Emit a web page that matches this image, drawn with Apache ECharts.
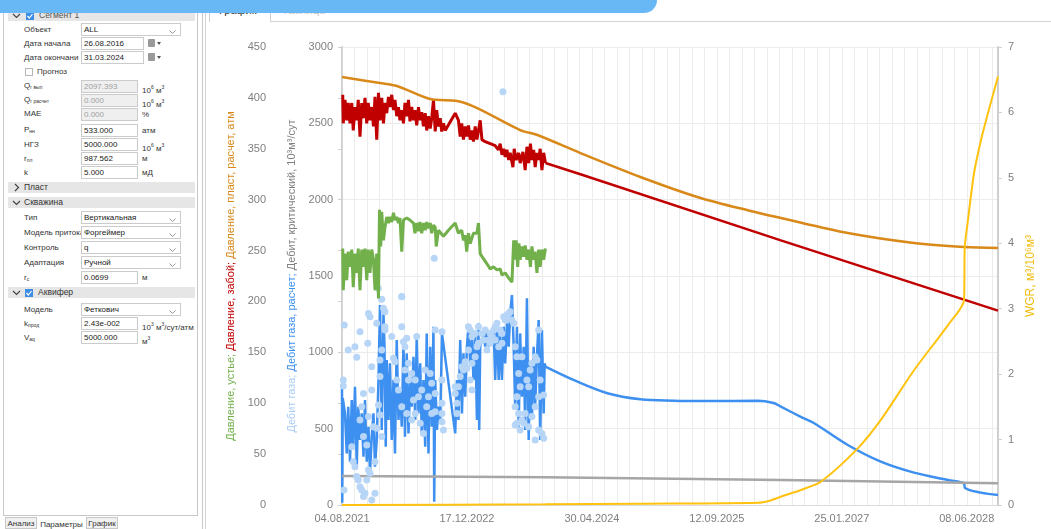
<!DOCTYPE html>
<html>
<head>
<meta charset="utf-8">
<title>Сегмент 1 — график</title>
<script src="https://cdn.jsdelivr.net/npm/echarts@6/dist/echarts.min.js"></script>
<style>
  html, body { margin: 0; padding: 0; width: 1051px; height: 529px; overflow: hidden; background: #fff;
    font-family: "Liberation Sans", Arial, sans-serif; color: #333; }
  #banner { position: absolute; left: 0; top: 0; width: 657px; height: 13px; background: #68b8f6;
    border-bottom-right-radius: 13px; z-index: 20; }
  #panel { position: absolute; left: 3px; top: 0; width: 195px; height: 516px; border: 1px solid #c8c8c8;
    border-top: none; box-sizing: border-box; background: #fff; }
  #splitter { position: absolute; left: 202px; top: 0; width: 1px; height: 529px; background: #c8c8c8; }
  #chartFrame { position: absolute; left: 205px; top: 0; width: 1px; height: 529px; background: #d4d4d4; }
  .hdr { position: absolute; left: 8px; width: 187px; height: 11px; background: #e6e6e6; font-size: 8.5px; line-height: 11px; }
  .hdr span { position: absolute; }
  .lbl { position: absolute; left: 24px; font-size: 8px; line-height: 10px; color: #333; white-space: nowrap; }
  .lbl sub { font-size: 5px; vertical-align: baseline; position: relative; top: 1px; }
  .inp { position: absolute; left: 81px; height: 13px; border: 1px solid #cbcbcb; background: #fff; box-sizing: border-box;
    font-size: 8px; line-height: 11px; padding-left: 2px; color: #222; white-space: nowrap; }
  .inp.dis { background: #efefef; color: #a0a0a0; }
  .sel { width: 100px; }
  .num { width: 57px; }
  .date { width: 63px; }
  .unit { position: absolute; left: 142px; font-size: 8px; line-height: 10px; color: #333; white-space: nowrap; }
  .unit sup { font-size: 5px; }
  .chev { position: absolute; right: 4px; top: 3px; }
  .cal { position: absolute; left: 148px; width: 7px; height: 8px; background: #9a9a9a; border-radius: 1px; }
  .cal:after { content: ""; position: absolute; left: 9px; top: 3px; border-left: 2.5px solid transparent;
    border-right: 2.5px solid transparent; border-top: 3px solid #555; }
  .chk { position: absolute; width: 8px; height: 8px; box-sizing: border-box; }
  .chk.on { background: #3b8de6; }
  .chk.off { border: 1px solid #b5b5b5; background: #fff; }
  .btab { position: absolute; top: 517px; height: 12px; font-size: 8px; line-height: 12px; text-align: center;
    box-sizing: border-box; border: 1px solid #c8c8c8; background: #f0f0f0; }
  .btab.act { background: #fff; border: none; line-height: 15px; }
  #tabGraph { position: absolute; left: 209px; top: 0; width: 62px; height: 22px; border-left: 1px solid #cfcfcf;
    border-right: 1px solid #cfcfcf; box-sizing: border-box; background: #fff; font-size: 11px; line-height: 20px;
    padding-left: 9px; color: #333; }
  #tabTable { position: absolute; left: 282px; top: 0; font-size: 11px; line-height: 20px; color: #c8c8c8; }
  #tabLine { position: absolute; left: 271px; top: 21px; width: 780px; height: 1px; background: #d4d4d4; }
  #chart { position: absolute; left: 208px; top: 22px; width: 843px; height: 507px; }
</style>
</head>
<body>
<div id="banner"></div>

<div id="panel"></div>
<div id="splitter"></div>

<!-- parameter panel -->
<div class="hdr" style="top:10px"><span style="left:4px;top:0"><svg width="9" height="11"><polyline points="1,4 4.5,7.5 8,4" fill="none" stroke="#444" stroke-width="1.2"/></svg></span>
  <span class="chk on" style="left:18px;top:1.5px"><svg width="8" height="8" style="position:absolute;left:0;top:0"><polyline points="1.5,4 3.3,6 6.5,2" fill="none" stroke="#fff" stroke-width="1.2"/></svg></span>
  <span style="left:31px;color:#555">Сегмент 1</span></div>

<div class="lbl" style="top:25px">Объект</div>
<div class="inp sel" style="top:23px">ALL<span class="chev"><svg width="7" height="5"><polyline points="0.5,0.5 3.5,3.5 6.5,0.5" fill="none" stroke="#888" stroke-width="0.9"/></svg></span></div>
<div class="lbl" style="top:39px">Дата начала</div>
<div class="inp date" style="top:37px">26.08.2016</div><div class="cal" style="top:39px"></div>
<div class="lbl" style="top:53px">Дата окончани</div>
<div class="inp date" style="top:51px">31.03.2024</div><div class="cal" style="top:53px"></div>
<div class="chk off" style="left:25px;top:68px"></div>
<div class="lbl" style="top:67px;left:37px">Прогноз</div>

<div class="lbl" style="top:81px">Q<sub>г вып</sub></div>
<div class="inp num dis" style="top:80px">2097.393</div><div class="unit" style="top:82px">10<sup>6</sup> м<sup>3</sup></div>
<div class="lbl" style="top:95px">Q<sub>г расчет</sub></div>
<div class="inp num dis" style="top:94px">0.000</div><div class="unit" style="top:96px">10<sup>6</sup> м<sup>3</sup></div>
<div class="lbl" style="top:109px">MAE</div>
<div class="inp num dis" style="top:108px">0.000</div><div class="unit" style="top:110px">%</div>
<div class="lbl" style="top:125px">P<sub>нн</sub></div>
<div class="inp num" style="top:124px">533.000</div><div class="unit" style="top:126px">атм</div>
<div class="lbl" style="top:140px">НГЗ</div>
<div class="inp num" style="top:138px">5000.000</div><div class="unit" style="top:140px">10<sup>6</sup> м<sup>3</sup></div>
<div class="lbl" style="top:154px">r<sub>пл</sub></div>
<div class="inp num" style="top:152px">987.562</div><div class="unit" style="top:154px">м</div>
<div class="lbl" style="top:168px">k</div>
<div class="inp num" style="top:166px">5.000</div><div class="unit" style="top:168px">мД</div>

<div class="hdr" style="top:182px"><span style="left:4px;top:0"><svg width="9" height="11"><polyline points="3,2 6.5,5.5 3,9" fill="none" stroke="#444" stroke-width="1.2"/></svg></span>
  <span style="left:16px">Пласт</span></div>
<div class="hdr" style="top:197px"><span style="left:4px;top:0"><svg width="9" height="11"><polyline points="1,4 4.5,7.5 8,4" fill="none" stroke="#444" stroke-width="1.2"/></svg></span>
  <span style="left:16px">Скважина</span></div>

<div class="lbl" style="top:213px">Тип</div>
<div class="inp sel" style="top:211px">Вертикальная<span class="chev"><svg width="7" height="5"><polyline points="0.5,0.5 3.5,3.5 6.5,0.5" fill="none" stroke="#888" stroke-width="0.9"/></svg></span></div>
<div class="lbl" style="top:228px">Модель притока</div>
<div class="inp sel" style="top:226px">Форгеймер<span class="chev"><svg width="7" height="5"><polyline points="0.5,0.5 3.5,3.5 6.5,0.5" fill="none" stroke="#888" stroke-width="0.9"/></svg></span></div>
<div class="lbl" style="top:243px">Контроль</div>
<div class="inp sel" style="top:241px">q<span class="chev"><svg width="7" height="5"><polyline points="0.5,0.5 3.5,3.5 6.5,0.5" fill="none" stroke="#888" stroke-width="0.9"/></svg></span></div>
<div class="lbl" style="top:258px">Адаптация</div>
<div class="inp sel" style="top:256px">Ручной<span class="chev"><svg width="7" height="5"><polyline points="0.5,0.5 3.5,3.5 6.5,0.5" fill="none" stroke="#888" stroke-width="0.9"/></svg></span></div>
<div class="lbl" style="top:273px">r<sub>с</sub></div>
<div class="inp num" style="top:271px">0.0699</div><div class="unit" style="top:273px">м</div>

<div class="hdr" style="top:287px"><span style="left:4px;top:0"><svg width="9" height="11"><polyline points="1,4 4.5,7.5 8,4" fill="none" stroke="#444" stroke-width="1.2"/></svg></span>
  <span class="chk on" style="left:17px;top:1.5px"><svg width="8" height="8" style="position:absolute;left:0;top:0"><polyline points="1.5,4 3.3,6 6.5,2" fill="none" stroke="#fff" stroke-width="1.2"/></svg></span>
  <span style="left:30px">Аквифер</span></div>

<div class="lbl" style="top:305px">Модель</div>
<div class="inp sel" style="top:303px">Феткович<span class="chev"><svg width="7" height="5"><polyline points="0.5,0.5 3.5,3.5 6.5,0.5" fill="none" stroke="#888" stroke-width="0.9"/></svg></span></div>
<div class="lbl" style="top:319px">k<sub>прод</sub></div>
<div class="inp num" style="top:317px">2.43e-002</div><div class="unit" style="top:319px">10<sup>3</sup> м<sup>3</sup>/сут/атм</div>
<div class="lbl" style="top:333px">V<sub>аq</sub></div>
<div class="inp num" style="top:331px">5000.000</div><div class="unit" style="top:333px">м<sup>3</sup></div>

<div class="btab" style="left:5px;width:32px">Анализ</div>
<div class="btab act" style="left:38px;width:47px">Параметры</div>
<div class="btab" style="left:86px;width:32px">График</div>

<!-- chart tabs -->
<div id="chartFrame"></div>
<div id="tabGraph">График</div>
<div id="tabTable">Таблица</div>
<div id="tabLine"></div>

<div id="chart"></div>

<script>
// Time axis is expressed as days counted from the first measurement date.
const START_DATE = Date.UTC(2021, 7, 4);
const X_MAX_DAYS = 2625;

// Давление, устье (атм) — measured history
const wellheadPressure = [
  [3,252],[5,211],[12,247],[19,221],[25,249],[32,234],[39,251],[45,214],[52,247],[59,228],[65,252],[72,211],
  [79,251],[85,234],[92,252],[99,221],[105,251],[112,228],[119,251],[126,241],[132,211],[139,247],[146,203],
  [150,290],[155,254],[159,288],[166,260],[172,273],[179,283],[186,277],[192,283],[199,278],[206,287],[212,280],
  [219,283],[226,277],[232,282],[239,249],[246,280],[259,282],[272,280],[286,277],[292,267],[299,277],[306,269],
  [312,278],[319,267],[326,277],[333,270],[339,278],[346,272],[353,277],[359,267],[366,275],[373,273],[377,254],
  [386,270],[406,264],[426,270],[453,277],[466,267],[479,270],[486,260],[493,265],[499,249],[506,267],[513,257],
  [526,267],[540,267],[546,277],[553,247],[566,242],[580,237],[593,232],[606,234],[620,231],[633,232],[640,226],
  [653,228],[667,223],[680,219],[687,260],[693,241],[697,260],[703,234],[708,257],[713,241],[720,254],[727,244],
  [733,255],[740,241],[747,251],[754,234],[760,254],[767,241],[773,249],[780,228],[787,251],[793,234],[800,251],
  [807,241],[814,252]
];

// Давление, забой (атм) — measured history, then calculated forecast
const bottomholePressure = [
  [3,403],[5,375],[12,398],[19,378],[25,395],[32,375],[39,395],[45,368],[52,391],[59,378],[65,398],[72,362],
  [79,395],[85,380],[92,400],[99,375],[105,395],[112,378],[119,391],[126,372],[132,401],[139,359],[146,405],
  [152,378],[159,400],[166,375],[172,395],[179,385],[186,401],[192,391],[199,403],[206,388],[212,398],[219,382],
  [226,391],[232,378],[239,388],[246,375],[252,395],[259,382],[266,398],[272,377],[279,391],[286,378],[292,388],
  [299,373],[306,391],[312,378],[319,386],[326,372],[333,385],[339,368],[346,382],[353,370],[359,380],[366,398],
  [373,367],[379,388],[386,372],[393,380],[399,367],[406,375],[413,368],[453,385],[466,378],[473,362],[479,375],
  [486,359],[493,372],[499,362],[506,373],[513,359],[520,368],[526,357],[533,372],[540,359],[553,378],[560,359],
  [573,357],[593,355],[613,353],[626,349],[633,355],[640,344],[647,350],[653,342],[660,349],[667,339],[673,346],
  [684,332],[689,350],[697,339],[707,346],[713,336],[724,347],[733,329],[740,352],[747,336],[754,355],[760,339],
  [767,349],[773,332],[780,346],[787,339],[793,350],[800,329],[807,346],[814,336]
];
const bottomholePressureForecast = [[814,336],[954,325],[1756,260],[2625,191]];

// Давление, пласт, расчет (атм)
const reservoirPressureCalc = [
  [0,420.5],[152,414.6],[220,411.7],[353,398.9],[461,396.9],[541,390.0],[713,368.4],[782,363.5],[954,345.8],
  [1194,322.3],[1435,301.6],[1635,288.9],[1756,282.0],[2024,267.2],[2289,257.4],[2489,253.5],[2625,252.5]
];

// Дебит газа (10³м³/сут) — measured points
const gasRateMeasured = [
  [9,1179],[5,819],[5,780],[8,98],[25,1015],[52,1037],[59,967],[39,382],[45,284],[52,251],[59,186],[65,164],
  [72,120],[79,98],[86,55],[92,77],[99,164],[106,229],[112,208],[132,77],[119,33],[72,1135],[86,731],[79,644],
  [72,557],[86,448],[99,393],[106,579],[106,1255],[112,1233],[103,1059],[119,906],[119,753],[126,513],[139,502],
  [132,284],[139,1190],[152,950],[159,1015],[166,1288],[172,1266],[172,1168],[172,1146],[152,841],[146,655],
  [152,589],[159,448],[239,1365],[199,1103],[206,961],[212,939],[219,819],[226,753],[239,1168],[246,1070],
  [252,1037],[259,1092],[266,928],[252,884],[266,819],[279,862],[293,819],[299,1103],[239,644],[259,600],
  [279,557],[293,600],[306,709],[319,753],[333,884],[339,644],[346,709],[359,797],[373,731],[373,1146],[400,1135],
  [373,611],[353,862],[286,688],[313,535],[326,469],[359,600],[400,819],[400,666],[400,600],[400,546],[406,491],
  [453,731],[460,666],[460,600],[466,775],[473,841],[480,906],[486,884],[493,939],[500,895],[506,1168],[513,1146],
  [520,1103],[506,1015],[520,928],[513,819],[520,753],[533,1124],[546,1168],[560,1124],[566,1081],[573,1146],
  [580,1015],[587,1081],[593,1124],[600,1103],[607,1146],[613,1081],[620,1190],[627,1037],[633,1146],[640,1124],
  [647,1233],[653,1212],[660,1244],[667,1255],[673,1266],[680,1212],[687,1190],[693,1037],[700,971],[707,862],
  [713,775],[720,971],[700,709],[693,644],[707,600],[700,535],[720,557],[733,600],[740,819],[747,775],[753,884],
  [760,928],[773,971],[780,950],[787,1146],[793,819],[787,709],[773,644],[760,579],[787,491],[800,469],[807,437],
  [807,720],[773,426],[747,513],[727,535],[693,524],[713,491],[453,775],[540,1037],[533,971],[546,1059],[593,1059],
  [613,1168],[640,1059],[145,1419],[159,1347],[239,1364],[369,1616],[644,2707]
];

// Дебит газа, расчет (10³м³/сут) — history match and forecast
const gasRateCalc = [
  [0,760],[1,15],[3,700],[12,600],[19,338],[25,644],[32,284],[39,688],[45,382],[52,775],[59,251],[65,644],
  [72,426],[79,600],[86,317],[92,688],[99,284],[106,513],[112,208],[119,448],[126,600],[132,251],[139,426],
  [146,819],[152,1310],[159,491],[166,1255],[170,1037],[175,382],[179,950],[186,557],[192,928],[199,426],
  [206,819],[212,338],[219,1081],[226,557],[233,753],[239,513],[246,1059],[252,448],[259,993],[266,469],
  [273,819],[279,644],[286,971],[293,557],[299,1103],[306,600],[313,928],[319,469],[326,819],[333,382],
  [339,1124],[346,338],[353,1037],[359,513],[366,1168],[369,22],[373,819],[380,491],[386,644],[393,535],
  [400,1124],[453,469],[460,819],[466,557],[473,1081],[480,600],[486,993],[493,709],[500,1037],[506,1168],
  [513,928],[520,1081],[526,819],[533,1124],[540,557],[546,1190],[549,491],[553,1037],[560,1081],[566,1124],
  [573,1037],[580,1146],[587,1037],[593,1103],[600,1081],[607,1146],[613,819],[620,1190],[627,819],[633,1124],
  [640,819],[647,1168],[653,928],[660,1190],[667,1037],[673,1255],[680,1375],[687,1037],[693,644],[700,1168],
  [707,491],[713,1124],[720,709],[727,1037],[733,491],[740,1354],[747,426],[753,928],[760,557],[767,1037],
  [773,644],[780,971],[787,1212],[793,426],[800,1146],[807,600],[811,928],[814,906]
];
const gasRateForecast = [
  [814,906],[926,819],[1062,732],[1194,692],[1327,683],[1463,681],[1663,683],[1727,668],[1756,644],[1836,578],
  [1888,537],[2024,393],[2156,284],[2289,212],[2425,164],[2489,142],[2493,112],[2557,81],[2625,65]
];

// Дебит, критический (10³м³/сут)
const criticalRate = [[0,190],[814,181],[1756,164],[2625,143]];

// WGR (м³/10⁶м³)
const wgr = [
  [0,0.0],[814,0.01],[1194,0.02],[1663,0.035],[1715,0.07],[1756,0.127],[1836,0.23],[1916,0.356],[2064,0.866],
  [2156,1.30],[2289,2.06],[2425,2.75],[2489,3.13],[2492,3.94],[2505,4.36],[2529,5.07],[2557,5.58],[2585,5.99],
  [2625,6.55]
];

const COLORS = {
  wellhead: '#72b04b', bottomhole: '#c00000', reservoir: '#d8891a',
  gasMeasured: '#b7d6f7', gasCalc: '#3d8ff0', critical: '#a6a6a6', wgr: '#ffc20e'
};

function pad2(n) { return (n < 10 ? '0' : '') + n; }
function dayToLabel(day) {
  const d = new Date(START_DATE + Math.round(day) * 86400000);
  return pad2(d.getUTCDate()) + '.' + pad2(d.getUTCMonth() + 1) + '.' + d.getUTCFullYear();
}
function plainNumber(v) { return String(v); }

const FONT = '"Liberation Sans", Arial, sans-serif';
const axisGray = '#cfcfcf';
const labelGray = '#7f7f7f';
const TITLE_SIZE = 11;

const chart = echarts.init(document.getElementById('chart'), null, { renderer: 'canvas' });
chart.setOption({
  animation: false,
  textStyle: { fontFamily: FONT },
  grid: { left: 134, right: 53, top: 25, bottom: 24, containLabel: false },
  xAxis: [
    {
      type: 'value', min: 0, max: X_MAX_DAYS, interval: 500, position: 'bottom',
      axisLine: { show: true, lineStyle: { color: '#dcdcdc', width: 1 } },
      axisTick: { show: false },
      axisLabel: { formatter: dayToLabel, color: labelGray, fontSize: 11, margin: 8, showMaxLabel: false, fontFamily: FONT },
      splitLine: { show: false }
    },
    {
      // fine vertical grid every 50 days
      type: 'value', min: 0, max: X_MAX_DAYS, interval: 50, position: 'bottom',
      axisLine: { show: false }, axisTick: { show: false }, axisLabel: { show: false },
      splitLine: { show: true, lineStyle: { color: '#ececec', width: 1 } }
    }
  ],
  yAxis: [
    {
      type: 'value', min: 0, max: 450, interval: 50, position: 'left', offset: 64,
      axisLine: { show: true, lineStyle: { color: axisGray, width: 2 } },
      axisTick: { show: true, length: 4, lineStyle: { color: axisGray, width: 1 } },
      axisLabel: { color: labelGray, fontSize: 11, margin: 12, fontFamily: FONT, formatter: plainNumber },
      splitLine: { show: false },
      name: '{g|Давление, устье;} {r|Давление, забой;} {o|Давление, пласт, расчет, атм}',
      nameLocation: 'middle', nameRotate: 90, nameGap: 39,
      nameTextStyle: {
        fontSize: TITLE_SIZE, fontFamily: FONT,
        rich: {
          g: { color: COLORS.wellhead, fontSize: TITLE_SIZE, fontFamily: FONT },
          r: { color: COLORS.bottomhole, fontSize: TITLE_SIZE, fontFamily: FONT },
          o: { color: COLORS.reservoir, fontSize: TITLE_SIZE, fontFamily: FONT }
        }
      }
    },
    {
      type: 'value', min: 0, max: 3000, interval: 500, position: 'left', offset: 0,
      axisLine: { show: true, lineStyle: { color: '#d6d6d6', width: 1 } },
      axisTick: { show: false },
      axisLabel: { color: labelGray, fontSize: 11, margin: 9, fontFamily: FONT, formatter: plainNumber },
      splitLine: { show: true, lineStyle: { color: '#ececec', width: 1 } },
      name: '{lb|Дебит газа;} {b|Дебит газа, расчет;} {k|Дебит, критический, 10³м³/сут}',
      nameLocation: 'middle', nameRotate: 90, nameGap: 44,
      nameTextStyle: {
        fontSize: TITLE_SIZE, fontFamily: FONT,
        rich: {
          lb: { color: '#a9cdf4', fontSize: TITLE_SIZE, fontFamily: FONT },
          b: { color: COLORS.gasCalc, fontSize: TITLE_SIZE, fontFamily: FONT },
          k: { color: '#808080', fontSize: TITLE_SIZE, fontFamily: FONT }
        }
      }
    },
    {
      type: 'value', min: 0, max: 7, interval: 1, position: 'right', offset: 0,
      axisLine: { show: true, lineStyle: { color: axisGray, width: 2 } },
      axisTick: { show: true, length: 4, lineStyle: { color: axisGray, width: 1 } },
      axisLabel: { color: labelGray, fontSize: 11, margin: 10, fontFamily: FONT, formatter: plainNumber },
      splitLine: { show: false },
      name: 'WGR, м³/10⁶м³',
      nameLocation: 'middle', nameRotate: 90, nameGap: 27,
      nameTextStyle: { color: '#f0bd12', fontSize: 12, fontFamily: FONT }
    }
  ],
  series: [
    {
      name: 'Дебит газа, расчет', type: 'line', xAxisIndex: 0, yAxisIndex: 1, data: gasRateCalc,
      showSymbol: false, lineStyle: { color: COLORS.gasCalc, width: 2.5 }, itemStyle: { color: COLORS.gasCalc }, z: 2
    },
    {
      name: 'Дебит газа, расчет (прогноз)', type: 'line', xAxisIndex: 0, yAxisIndex: 1, data: gasRateForecast,
      smooth: 0.35, showSymbol: false, lineStyle: { color: COLORS.gasCalc, width: 2.5 }, itemStyle: { color: COLORS.gasCalc }, z: 2
    },
    {
      name: 'Дебит, критический', type: 'line', xAxisIndex: 0, yAxisIndex: 1, data: criticalRate,
      showSymbol: false, lineStyle: { color: COLORS.critical, width: 2.5 }, itemStyle: { color: COLORS.critical }, z: 3
    },
    {
      name: 'Дебит газа', type: 'scatter', xAxisIndex: 0, yAxisIndex: 1, data: gasRateMeasured,
      symbolSize: 7, itemStyle: { color: COLORS.gasMeasured, opacity: 1 }, z: 4
    },
    {
      name: 'Давление, устье', type: 'line', xAxisIndex: 0, yAxisIndex: 0, data: wellheadPressure,
      showSymbol: false, lineStyle: { color: COLORS.wellhead, width: 3 }, itemStyle: { color: COLORS.wellhead }, z: 5
    },
    {
      name: 'Давление, забой', type: 'line', xAxisIndex: 0, yAxisIndex: 0, data: bottomholePressure,
      showSymbol: false, lineStyle: { color: COLORS.bottomhole, width: 3 }, itemStyle: { color: COLORS.bottomhole }, z: 5
    },
    {
      name: 'Давление, забой (прогноз)', type: 'line', xAxisIndex: 0, yAxisIndex: 0, data: bottomholePressureForecast,
      showSymbol: false, lineStyle: { color: COLORS.bottomhole, width: 2.5 }, itemStyle: { color: COLORS.bottomhole }, z: 5
    },
    {
      name: 'Давление, пласт, расчет', type: 'line', xAxisIndex: 0, yAxisIndex: 0, data: reservoirPressureCalc,
      smooth: 0.3, showSymbol: false, lineStyle: { color: COLORS.reservoir, width: 2.5 }, itemStyle: { color: COLORS.reservoir }, z: 6
    },
    {
      name: 'WGR', type: 'line', xAxisIndex: 0, yAxisIndex: 2, data: wgr,
      smooth: 0.25, showSymbol: false, lineStyle: { color: COLORS.wgr, width: 2 }, itemStyle: { color: COLORS.wgr }, z: 7
    }
  ]
});
</script>
</body>
</html>
